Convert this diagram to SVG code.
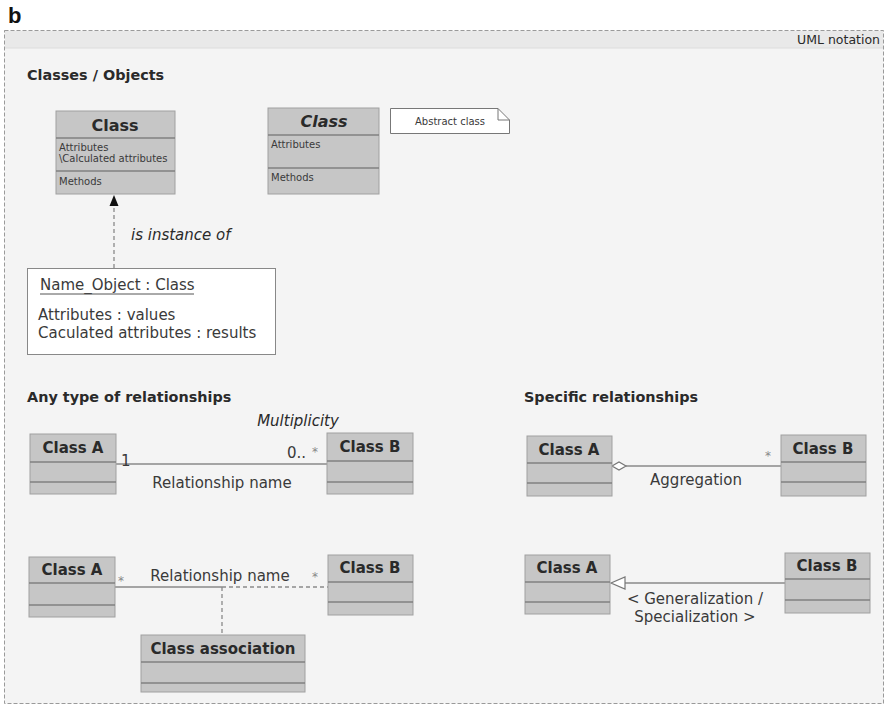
<svg xmlns="http://www.w3.org/2000/svg" width="886" height="706" viewBox="0 0 886 706">
  <defs>
    <style>
      text { font-family: "DejaVu Sans", "Liberation Sans", sans-serif; fill: #2a2a2a; }
      .cls { fill: #c6c6c6; stroke: #a0a0a0; stroke-width: 1; }
      .div { stroke: #808080; stroke-width: 1.5; }
      .ttl { font-weight: bold; font-size: 15px; text-anchor: middle; }
      .sec { font-weight: bold; font-size: 14.4px; }
      .sm { font-size: 10px; fill: #3a3a3a; }
      .lbl { font-size: 15px; fill: #3a3a3a; }
      .conn { stroke: #8a8a8a; stroke-width: 1.3; fill: none; }
      .dash { stroke-dasharray: 4 3; }
      .star { font-size: 12px; fill: #888; }
    </style>
  </defs>

  <!-- panel label -->
  <text x="8" y="23" style="font-family:'Liberation Sans',sans-serif;font-weight:bold;font-size:22px;fill:#111">b</text>

  <!-- frame -->
  <rect x="4.5" y="30.5" width="879" height="673" fill="#f4f4f4" stroke="#9a9a9a" stroke-dasharray="4 2"/>
  <rect x="5" y="31" width="878" height="17" fill="#e9e9e9"/>
  <line x1="5" y1="48" x2="883" y2="48" stroke="#dcdcdc"/>
  <text x="880" y="44" font-size="12.5" text-anchor="end" fill="#333">UML notation</text>

  <text x="27" y="80" class="sec">Classes / Objects</text>
  <text x="27" y="402" class="sec">Any type of relationships</text>
  <text x="524" y="402" class="sec">Specific relationships</text>

  <!-- connectors -->
  <g id="connectors">
    <line x1="114" y1="268" x2="114" y2="205" class="conn dash" stroke="#666"/>
    <path d="M114,195 L118.5,206 L109.5,206 Z" fill="#111"/>
    <line x1="116" y1="464" x2="327" y2="464" class="conn"/>
    <line x1="115" y1="587" x2="222" y2="587" class="conn"/>
    <line x1="222" y1="587" x2="328" y2="587" class="conn dash"/>
    <line x1="222" y1="587" x2="222" y2="635" class="conn dash"/>
    <line x1="626" y1="466" x2="781" y2="466" class="conn"/>
    <path d="M612,466 L619,462 L626,466 L619,470 Z" fill="#fff" stroke="#777" stroke-width="1.2"/>
    <line x1="624" y1="583" x2="785" y2="583" class="conn"/>
    <path d="M611,583 L625,577 L625,589 Z" fill="#fff" stroke="#777" stroke-width="1.2"/>
  </g>

  <!-- connector labels -->
  <text x="131" y="240" font-size="15" font-style="italic" fill="#333">is instance of</text>
  <text x="298" y="426" font-size="15" font-style="italic" fill="#333" text-anchor="middle">Multiplicity</text>
  <text x="121" y="466" class="lbl">1</text>
  <text x="306" y="458" class="lbl" text-anchor="end">0..</text>
  <text x="312" y="456" class="star">*</text>
  <text x="222" y="488" class="lbl" text-anchor="middle">Relationship name</text>
  <text x="118" y="585" class="star">*</text>
  <text x="312" y="581" class="star">*</text>
  <text x="220" y="581" class="lbl" text-anchor="middle">Relationship name</text>
  <text x="765" y="460" class="star">*</text>
  <text x="696" y="485" class="lbl" text-anchor="middle">Aggregation</text>
  <text x="695" y="604" class="lbl" text-anchor="middle">&lt; Generalization /</text>
  <text x="695" y="622" class="lbl" text-anchor="middle">Specialization &gt;</text>

  <!-- Class -->
  <g id="class">
    <rect x="56" y="111" width="119" height="83" class="cls"/>
    <line x1="56" y1="138" x2="175" y2="138" class="div"/>
    <line x1="56" y1="171" x2="175" y2="171" class="div"/>
    <text x="115" y="131" class="ttl" style="font-size:16px">Class</text>
    <text x="59" y="151" class="sm">Attributes</text>
    <text x="59" y="162" class="sm">\Calculated attributes</text>
    <text x="59" y="185" class="sm">Methods</text>
  </g>

  <!-- abstract Class -->
  <g id="abstract-class">
    <rect x="268" y="108" width="111" height="86" class="cls"/>
    <line x1="268" y1="135" x2="379" y2="135" class="div"/>
    <line x1="268" y1="168" x2="379" y2="168" class="div"/>
    <text x="324" y="127" class="ttl" style="font-size:16px;font-style:italic">Class</text>
    <text x="271" y="148" class="sm">Attributes</text>
    <text x="271" y="181" class="sm">Methods</text>
  </g>

  <!-- note -->
  <g id="note-abstract">
    <path d="M390.5,108.5 H498 L509.5,120 V133.5 H390.5 Z" fill="#fff" stroke="#777"/>
    <path d="M498,108.5 V120 H509.5" fill="none" stroke="#777"/>
    <text x="450" y="125" class="sm" text-anchor="middle">Abstract class</text>
  </g>

  <!-- object -->
  <g id="object">
    <rect x="27.5" y="268.5" width="248" height="86" fill="#fff" stroke="#888"/>
    <text x="40" y="290" class="lbl">Name_Object : Class</text>
    <line x1="40" y1="294" x2="194" y2="294" stroke="#555" stroke-width="1"/>
    <text x="38" y="320" class="lbl">Attributes : values</text>
    <text x="38" y="338" class="lbl">Caculated attributes : results</text>
  </g>

  <!-- multiplicity example -->
  <g id="any-class-a1">
    <rect x="30" y="434" width="86" height="60" class="cls"/>
    <line x1="30" y1="462" x2="116" y2="462" class="div"/>
    <line x1="30" y1="482" x2="116" y2="482" class="div"/>
    <text x="73" y="453" class="ttl">Class A</text>
  </g>
  <g id="any-class-b1">
    <rect x="327" y="433" width="86" height="61" class="cls"/>
    <line x1="327" y1="461" x2="413" y2="461" class="div"/>
    <line x1="327" y1="482" x2="413" y2="482" class="div"/>
    <text x="370" y="452" class="ttl">Class B</text>
  </g>

  <!-- association class example -->
  <g id="any-class-a2">
    <rect x="29" y="557" width="86" height="60" class="cls"/>
    <line x1="29" y1="583" x2="115" y2="583" class="div"/>
    <line x1="29" y1="605" x2="115" y2="605" class="div"/>
    <text x="72" y="575" class="ttl">Class A</text>
  </g>
  <g id="any-class-b2">
    <rect x="328" y="555" width="85" height="60" class="cls"/>
    <line x1="328" y1="582" x2="413" y2="582" class="div"/>
    <line x1="328" y1="602" x2="413" y2="602" class="div"/>
    <text x="370" y="573" class="ttl">Class B</text>
  </g>
  <g id="class-association">
    <rect x="141" y="635" width="164" height="57" class="cls"/>
    <line x1="141" y1="662" x2="305" y2="662" class="div"/>
    <line x1="141" y1="683" x2="305" y2="683" class="div"/>
    <text x="223" y="654" class="ttl">Class association</text>
  </g>

  <!-- aggregation -->
  <g id="spec-class-a1">
    <rect x="527" y="436" width="85" height="60" class="cls"/>
    <line x1="527" y1="463" x2="612" y2="463" class="div"/>
    <line x1="527" y1="483" x2="612" y2="483" class="div"/>
    <text x="569" y="455" class="ttl">Class A</text>
  </g>
  <g id="spec-class-b1">
    <rect x="781" y="435" width="85" height="61" class="cls"/>
    <line x1="781" y1="462" x2="866" y2="462" class="div"/>
    <line x1="781" y1="482" x2="866" y2="482" class="div"/>
    <text x="823" y="454" class="ttl">Class B</text>
  </g>

  <!-- generalization -->
  <g id="spec-class-a2">
    <rect x="525" y="555" width="85" height="59" class="cls"/>
    <line x1="525" y1="582" x2="610" y2="582" class="div"/>
    <line x1="525" y1="602" x2="610" y2="602" class="div"/>
    <text x="567" y="573" class="ttl">Class A</text>
  </g>
  <g id="spec-class-b2">
    <rect x="785" y="553" width="85" height="60" class="cls"/>
    <line x1="785" y1="579" x2="870" y2="579" class="div"/>
    <line x1="785" y1="600" x2="870" y2="600" class="div"/>
    <text x="827" y="571" class="ttl">Class B</text>
  </g>
</svg>
